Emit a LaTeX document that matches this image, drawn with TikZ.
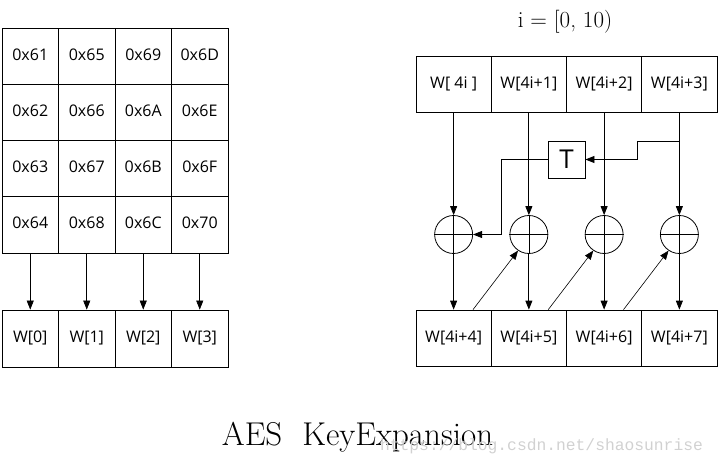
\documentclass[tikz,border=0pt]{standalone}
\usepackage{fontspec}
\newfontfamily\cellfont{Open Sans}
\newfontfamily\wmfont{Liberation Mono}
\usetikzlibrary{arrows.meta}
\begin{document}
\begin{tikzpicture}[x=1pt,y=-1pt,
  line width=0.8pt,
  cell/.style={draw, inner sep=0pt, minimum width=56.5pt, minimum height=56.25pt, text height=11.5pt, text depth=3.5pt, font=\cellfont\fontsize{16}{16}\selectfont},
  wcell/.style={draw, inner sep=0pt, minimum width=75.25pt, minimum height=56pt, text height=11.5pt, text depth=3.5pt, font=\cellfont\fontsize{16}{16}\selectfont},
  xorc/.style={draw, circle, inner sep=0pt, minimum size=38pt},
  tbox/.style={draw, inner sep=0pt, minimum size=37pt, font=\cellfont\fontsize{26}{26}\selectfont},
  arr/.style={-{Triangle[length=9pt,width=7pt]}},
  larr/.style={-{Triangle[length=9pt,width=7pt]}, line width=0.6pt}]
\useasboundingbox (0,0) rectangle (721,471);
% left grid
\foreach \r/\a/\b/\c/\d in {1/0x61/0x65/0x69/0x6D, 2/0x62/0x66/0x6A/0x6E, 3/0x63/0x67/0x6B/0x6F, 4/0x64/0x68/0x6C/0x70}{
  \node[cell] (g\r1) at ({2+56.5*0.5}, {28+56.25*(\r-0.5)}) {\a};
  \node[cell] (g\r2) at ({2+56.5*1.5}, {28+56.25*(\r-0.5)}) {\b};
  \node[cell] (g\r3) at ({2+56.5*2.5}, {28+56.25*(\r-0.5)}) {\c};
  \node[cell] (g\r4) at ({2+56.5*3.5}, {28+56.25*(\r-0.5)}) {\d};
}
\foreach \k in {1,...,4}{
  \pgfmathtruncatemacro{\kk}{\k-1}
  \node[cell, minimum height=57pt] (w\k) at ({2+56.5*(\k-0.5)}, 338.5) {W[\kk]};
  \draw[larr] (g4\k.south) -- (w\k.north);
}
% right part
\node[font=\fontsize{23}{26}\selectfont] (title) at (565,22) {i = [0, 10)};
\node[wcell] (t1) at ({416+75.25*0.5}, 84) {W[ 4i ]};
\node[wcell] (t2) at ({416+75.25*1.5}, 84) {W[4i+1]};
\node[wcell] (t3) at ({416+75.25*2.5}, 84) {W[4i+2]};
\node[wcell] (t4) at ({416+75.25*3.5}, 84) {W[4i+3]};
\node[wcell] (b1) at ({416+75.25*0.5}, 338) {W[4i+4]};
\node[wcell] (b2) at ({416+75.25*1.5}, 338) {W[4i+5]};
\node[wcell] (b3) at ({416+75.25*2.5}, 338) {W[4i+6]};
\node[wcell] (b4) at ({416+75.25*3.5}, 338) {W[4i+7]};
\foreach \k in {1,...,4}{
  \node[xorc] (c\k) at ({416+75.25*(\k-0.5)}, 234.5) {};
  \draw[line width=0.6pt] (c\k.north) -- (c\k.south) (c\k.west) -- (c\k.east);
  \draw[arr] (t\k.south) -- (c\k.north);
  \draw[arr] (c\k.south) -- (b\k.north);
}
\foreach \k/\n in {1/2,2/3,3/4}{
  \draw[larr] ([xshift=19.4pt]b\k.north) -- (c\n.236);
}
\node[tbox] (T) at (566.5,159.5) {T};
\coordinate (br) at (t4.south |- 0,141);
\coordinate (tl) at (501,159.5);
\draw[arr] (br) -- ++(-42,0) |- (T.east);
\draw[arr] (T.west) -- (tl) |- (c1.east);
% caption
\node[font=\fontsize{33}{33}\selectfont, anchor=base] (cap) at (357.5,445) {AES\ \ KeyExpansion};
\node[font=\wmfont\fontsize{16.3}{16}\selectfont, text=black!18, anchor=base] (wm) at (541.5,450) {https://blog.csdn.net/shaosunrise};
\end{tikzpicture}
\end{document}
